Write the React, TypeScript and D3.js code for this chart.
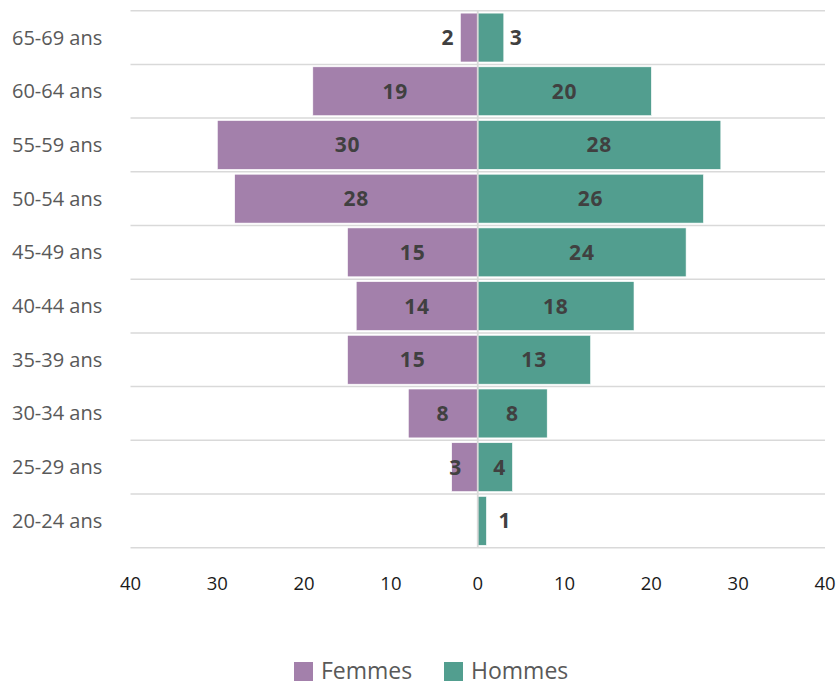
import React from "react";
import * as d3 from "d3";

const categories = [
  "65-69 ans",
  "60-64 ans",
  "55-59 ans",
  "50-54 ans",
  "45-49 ans",
  "40-44 ans",
  "35-39 ans",
  "30-34 ans",
  "25-29 ans",
  "20-24 ans",
];
const femmes = [2, 19, 30, 28, 15, 14, 15, 8, 3, 0];
const hommes = [3, 20, 28, 26, 24, 18, 13, 8, 4, 1];
const tickValues = [-40, -30, -20, -10, 0, 10, 20, 30, 40];
const seriesNames = ["Femmes", "Hommes"];

const W = 838;
const H = 686;
const PURPLE = "#A380AB";
const GREEN = "#529E8F";
const GRID = "#D9D9D9";
const LABEL = "#404040";
const TEXT = "#595959";
const FONT = "'Open Sans', 'Noto Sans', sans-serif";

export default function App() {
  const x = d3.scaleLinear().domain([-40, 40]).range([130.5, 825]);
  const y = d3
    .scaleBand<string>()
    .domain(categories)
    .range([10.7, 547.7])
    .paddingInner(0.09)
    .paddingOuter(0.045);
  const step = y.step();
  const top = 10.7;
  const x0 = x(0);
  const minDist = 22;
  const gap = 6;
  const LFS = 21;

  const rows = categories.map((c, i) => {
    const f = femmes[i];
    const h = hommes[i];
    const nz = [f, h].filter((v) => v > 0);
    const outside = nz.length > 0 && Math.min(...nz) <= 2;
    return { c, f, h, outside, i };
  });

  const labelProps = {
    fontSize: LFS,
    fontWeight: 700,
    fill: LABEL,
    letterSpacing: 0.8,
  };

  return (
    <svg
      width={W}
      height={H}
      style={{ position: "absolute", left: 0, top: 0, background: "#fff" }}
      fontFamily={FONT}
    >
      {/* gridlines */}
      {d3.range(categories.length + 1).map((i) => (
        <line
          key={"g" + i}
          x1={x(-40)}
          x2={x(40)}
          y1={top + i * step}
          y2={top + i * step}
          stroke={GRID}
          strokeWidth={1.5}
        />
      ))}
      {/* bars */}
      {rows.map((r) => {
        const yy = y(r.c)!;
        const bh = y.bandwidth();
        return (
          <g key={r.c}>
            {r.f > 0 && (
              <rect
                x={x(-r.f)}
                y={yy}
                width={x0 - x(-r.f)}
                height={bh}
                fill={PURPLE}
                stroke="#ffffff"
                strokeWidth={0.6}
              />
            )}
            {r.h > 0 && (
              <rect
                x={x0}
                y={yy}
                width={x(r.h) - x0}
                height={bh}
                fill={GREEN}
                stroke="#ffffff"
                strokeWidth={0.6}
              />
            )}
          </g>
        );
      })}
      {/* zero axis */}
      <line
        x1={x0}
        x2={x0}
        y1={top}
        y2={top + categories.length * step}
        stroke={GRID}
        strokeWidth={1.8}
      />
      {/* data labels */}
      {rows.map((r) => {
        const cy = y(r.c)! + y.bandwidth() / 2 + 7.5;
        const out: React.ReactNode[] = [];
        if (r.f > 0) {
          if (r.outside) {
            out.push(
              <text key="f" x={x(-r.f) - gap} y={cy} textAnchor="end" {...labelProps}>
                {r.f}
              </text>
            );
          } else {
            const cx = Math.min((x(-r.f) + x0) / 2, x0 - minDist);
            out.push(
              <text key="f" x={cx} y={cy} textAnchor="middle" {...labelProps}>
                {r.f}
              </text>
            );
          }
        }
        if (r.h > 0) {
          if (r.outside) {
            out.push(
              <text key="h" x={x(r.h) + gap + (r.h < 2 ? 6 : 0)} y={cy} textAnchor="start" {...labelProps}>
                {r.h}
              </text>
            );
          } else {
            const cx = Math.max((x(r.h) + x0) / 2, x0 + minDist);
            out.push(
              <text key="h" x={cx} y={cy} textAnchor="middle" {...labelProps}>
                {r.h}
              </text>
            );
          }
        }
        return <g key={"l" + r.c}>{out}</g>;
      })}
      {/* category labels */}
      {categories.map((c) => (
        <text
          key={"c" + c}
          x={12}
          y={y(c)! + y.bandwidth() / 2 + 7}
          fontSize={20}
          fill={TEXT}
        >
          {c}
        </text>
      ))}
      {/* x ticks */}
      {tickValues.map((t) => (
        <text
          key={"t" + t}
          x={x(t)}
          y={590}
          textAnchor="middle"
          fontSize={18.5}
          fill="#1a1a1a"
        >
          {Math.abs(t)}
        </text>
      ))}
      {/* legend */}
      <rect x={294} y={662} width={19} height={19} fill={PURPLE} />
      <text x={321} y={679} fontSize={23} fill={TEXT}>
        {seriesNames[0]}
      </text>
      <rect x={444} y={662} width={19} height={19} fill={GREEN} />
      <text x={471} y={679} fontSize={23} fill={TEXT}>
        {seriesNames[1]}
      </text>
    </svg>
  );
}
